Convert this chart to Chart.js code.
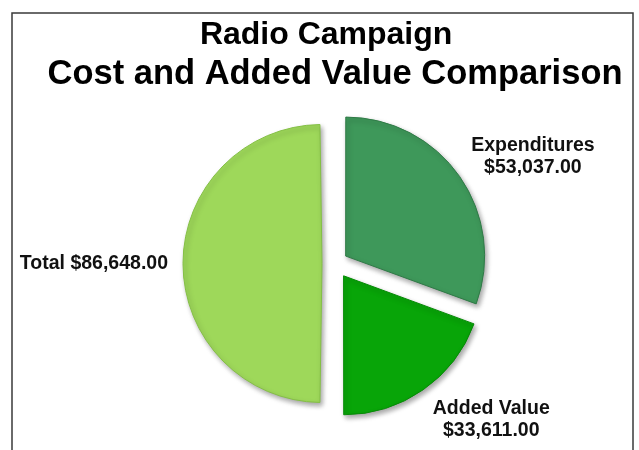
<!DOCTYPE html>
<html>
<head>
<meta charset="utf-8">
<script src="https://cdn.jsdelivr.net/npm/chart.js@4.4.1/dist/chart.umd.min.js"></script>
<style>
  html, body { margin: 0; padding: 0; background: #fff; }
  #wrap { width: 639px; height: 450px; }
</style>
</head>
<body>
<div id="wrap"><canvas id="grafico-pie"></canvas></div>
<script>
// datos del grafico
const categorias = ['Expenditures', 'Added Value', 'Total'];
const valores = [53037, 33611, 86648];
const titulo = 'Radio Campaign  ';
const subtitulo = 'Cost and Added Value Comparison';

const colores = ['#3e985a', '#08a508', '#9ed85a'];
const bordes = ['#2f7a46', '#068a06', '#84bf45'];
const separacion = [52, 60, 52];

function dinero(v) {
    return '$' + v.toLocaleString('en-US', { minimumFractionDigits: 2, maximumFractionDigits: 2 });
}

// donde va cada etiqueta: angulo (grados desde arriba) y distancia extra fuera del radio
const ubicacion = [
    { ang: 61.6, extra: 86, lineas: 2, align: 'center' },
    { ang: 135, extra: 82, lineas: 2, align: 'center' },
    { ang: 270, extra: 28, lineas: 1, align: 'right' }
];

const fuente = '"Liberation Sans", Arial, sans-serif';
const RADIO = 139;

const marco = {
    id: 'marco',
    beforeDraw(chart) {
        const ctx = chart.ctx;
        ctx.save();
        ctx.strokeStyle = '#3a3a3a';
        ctx.lineWidth = 1.5;
        ctx.strokeRect(12, 13, 621, 460);
        ctx.restore();
    },
    beforeDatasetDraw(chart) {
        // chart.js agranda el radio de una porcion de 180 grados cuando tiene offset;
        // se compensa para que todas queden del mismo tamano
        chart.getDatasetMeta(0).data.forEach(arc => {
            const circ = arc.endAngle - arc.startAngle;
            const fix = 1 - Math.sin(Math.min(Math.PI, circ));
            arc.outerRadius = RADIO - (arc.options.offset / 4) * fix;
        });
        const ctx = chart.ctx;
        ctx.save();
        ctx.shadowColor = 'rgba(0,0,0,0.35)';
        ctx.shadowBlur = 5;
        ctx.shadowOffsetX = 2;
        ctx.shadowOffsetY = 3;
    },
    afterDatasetDraw(chart) {
        chart.ctx.restore();
    },
    afterDatasetsDraw(chart) {
        const ctx = chart.ctx;
        const arcs = chart.getDatasetMeta(0).data;
        ctx.save();
        ctx.fillStyle = '#111';
        ctx.font = 'bold 19.5px ' + fuente;
        ctx.textBaseline = 'middle';
        arcs.forEach((arc, i) => {
            const u = ubicacion[i];
            const a = u.ang * Math.PI / 180;
            const d = RADIO + u.extra;
            const x = arc.x + d * Math.sin(a);
            const y = arc.y - d * Math.cos(a);
            ctx.textAlign = u.align;
            if (u.lineas === 2) {
                ctx.fillText(categorias[i], x, y - 11);
                ctx.fillText(dinero(valores[i]), x, y + 11);
            } else {
                ctx.fillText(categorias[i] + ' ' + dinero(valores[i]), x, y);
            }
        });
        ctx.restore();
    }
};

const ctx = document.getElementById('grafico-pie').getContext('2d');
new Chart(ctx, {
    type: 'pie',
    data: {
        labels: categorias,
        datasets: [{
            data: valores,
            backgroundColor: colores,
            borderColor: bordes,
            borderWidth: 1,
            offset: separacion
        }]
    },
    options: {
        responsive: true,
        maintainAspectRatio: false,
        animation: false,
        radius: RADIO,
        layout: { padding: { left: 31, right: 0, top: 0, bottom: 16 } },
        plugins: {
            legend: { display: false },
            tooltip: { enabled: false },
            title: {
                display: true,
                text: titulo,
                color: '#000',
                font: { family: fuente, size: 32, weight: 'bold', lineHeight: 38 / 32 },
                padding: { top: 16, bottom: 0 }
            },
            subtitle: {
                display: true,
                text: subtitulo,
                color: '#000',
                font: { family: fuente, size: 34.5, weight: 'bold', lineHeight: 38 / 34.5 },
                padding: { top: 1, bottom: 0 }
            }
        }
    },
    plugins: [marco]
});
</script>
</body>
</html>
